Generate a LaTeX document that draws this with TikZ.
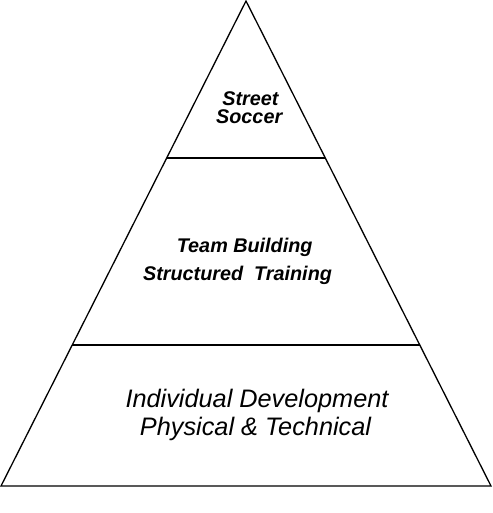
\documentclass[tikz,border=0pt]{standalone}
\usepackage{fontspec}
\setmainfont{Liberation Sans}
\usetikzlibrary{calc}
\tikzset{
  layer/.style={line width=1.3pt, color=black},
  txt/.style={anchor=base, inner sep=0pt},
  toptxt/.style={txt, font=\bfseries\itshape\fontsize{19.8}{20}\selectfont},
  bottxt/.style={txt, font=\itshape\fontsize{25.3}{26}\selectfont},
}
\begin{document}
\begin{tikzpicture}[x=1pt, y=-1pt]
    \useasboundingbox (0,0) rectangle (492,513);
    \coordinate (apex) at (246,1);
    \coordinate (baseL) at (1,486);
    \coordinate (baseR) at (491,486);
    % level boundaries
    \coordinate (l1L) at ($(apex)!0.3237!(baseL)$);
    \coordinate (l1R) at ($(apex)!0.3237!(baseR)$);
    \coordinate (l2L) at ($(apex)!0.7093!(baseL)$);
    \coordinate (l2R) at ($(apex)!0.7093!(baseR)$);
    \draw[layer] (apex) -- (baseL) -- (baseR) -- cycle;
    \draw[layer] (l1L) -- (l1R);
    \draw[layer] (l2L) -- (l2R);
    % labels
    \node[toptxt] (street) at (250.4,105.2) {Street};
    \node[toptxt] (soccer) at (249.2,123.8) {Soccer};
    \node[toptxt] (team) at (244.7,252.7) {Team Building};
    \node[toptxt] (struct) at (237.5,280) {Structured~ Training};
    \node[bottxt] (indiv) at (257,407) {Individual Development};
    \node[bottxt] (phys) at (255.5,435) {Physical \& Technical};
\end{tikzpicture}
\end{document}
